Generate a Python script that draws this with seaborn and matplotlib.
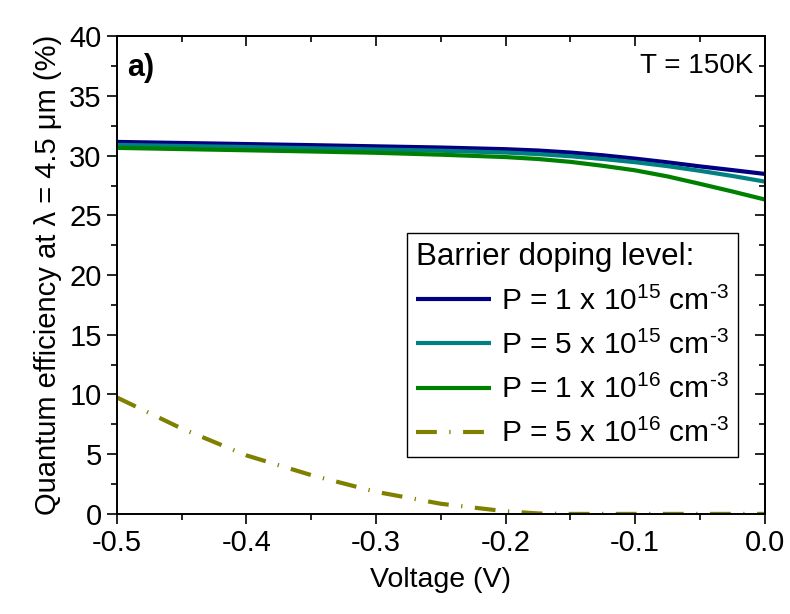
import numpy as np
import pandas as pd
import matplotlib
matplotlib.use("Agg")
import matplotlib.pyplot as plt
from matplotlib.ticker import MultipleLocator
import seaborn as sns

# Bias voltage (V) and quantum efficiency (%) for each barrier doping level
voltage = [-0.5, -0.45, -0.4, -0.35, -0.3, -0.25, -0.2, -0.175, -0.15, -0.125, -0.1, -0.075, -0.05, -0.025, 0.0]
qe_1e15 = [31.15, 31.06, 30.97, 30.88, 30.78, 30.68, 30.54, 30.43, 30.26, 30.03, 29.75, 29.44, 29.10, 28.79, 28.47]
qe_5e15 = [30.90, 30.81, 30.72, 30.62, 30.52, 30.41, 30.26, 30.13, 29.95, 29.72, 29.45, 29.12, 28.73, 28.30, 27.83]
qe_1e16 = [30.65, 30.55, 30.45, 30.35, 30.24, 30.08, 29.88, 29.72, 29.48, 29.15, 28.77, 28.26, 27.64, 27.00, 26.33]
qe_5e16 = [9.75, 7.15, 4.90, 3.25, 1.85, 0.85, 0.22, 0.04, 0.0, 0.0, 0.0, 0.0, 0.0, 0.0, 0.0]

labels = [r"P = 1 x 10$^{15}$ cm$^{\text{-}3}$",
          r"P = 5 x 10$^{15}$ cm$^{\text{-}3}$",
          r"P = 1 x 10$^{16}$ cm$^{\text{-}3}$",
          r"P = 5 x 10$^{16}$ cm$^{\text{-}3}$"]
colors = ["#000080", "#008080", "#008000", "#808000"]

frames = []
for lab, qe in zip(labels, [qe_1e15, qe_5e15, qe_1e16, qe_5e16]):
    frames.append(pd.DataFrame({"V": voltage, "QE": qe, "doping": lab}))
df = pd.concat(frames, ignore_index=True)

sns.set_theme(style="ticks")
plt.rcParams.update({
    "font.family": ["Liberation Sans", "DejaVu Sans"],
    "mathtext.fontset": "custom",
    "mathtext.rm": "Liberation Sans",
    "mathtext.it": "Liberation Sans:italic",
    "mathtext.bf": "Liberation Sans:bold",
    "axes.unicode_minus": False,
    "axes.linewidth": 1.4,
    "axes.edgecolor": "black",
    "text.color": "black",
    "axes.labelcolor": "black",
    "xtick.color": "black",
    "ytick.color": "black",
})

fig = plt.figure(figsize=(7.9, 6.14), dpi=100)
ax = fig.add_axes([0.148, 0.163, 0.820, 0.778])

dash_styles = {labels[0]: "", labels[1]: "", labels[2]: "",
               labels[3]: (5.0, 3.0, 0.3, 3.0)}
sns.lineplot(data=df, x="V", y="QE", hue="doping", style="doping",
             palette=dict(zip(labels, colors)), dashes=dash_styles,
             hue_order=labels, style_order=labels,
             linewidth=3.0, ax=ax, legend=True)
for ln in ax.get_lines():
    ln.set_dash_capstyle("butt")
    ln.set_solid_capstyle("butt")
    ln.set_solid_joinstyle("round")

ax.set_xlim(-0.5, 0.0)
ax.set_ylim(0, 40)
ax.xaxis.set_major_locator(MultipleLocator(0.1))
ax.xaxis.set_minor_locator(MultipleLocator(0.05))
ax.yaxis.set_major_locator(MultipleLocator(5))
ax.yaxis.set_minor_locator(MultipleLocator(2.5))
ax.tick_params(which="both", direction="out", top=False, right=False,
               labelsize=21, width=1.2, pad=4)
ax.tick_params(which="major", length=7)
ax.tick_params(which="minor", length=4)

# Mirrored inward ticks on the top and right spines
top = ax.secondary_xaxis("top")
top.xaxis.set_major_locator(MultipleLocator(0.1))
top.xaxis.set_minor_locator(MultipleLocator(0.05))
top.tick_params(which="both", direction="in", labeltop=False, width=1.2)
top.tick_params(which="major", length=7)
top.tick_params(which="minor", length=4)
right = ax.secondary_yaxis("right")
right.yaxis.set_major_locator(MultipleLocator(5))
right.yaxis.set_minor_locator(MultipleLocator(2.5))
right.tick_params(which="both", direction="in", labelright=False, width=1.2)
right.tick_params(which="major", length=7)
right.tick_params(which="minor", length=4)

ax.set_xlabel("Voltage (V)", fontsize=20.5, labelpad=7)
ax.set_ylabel("Quantum efficiency at \u03bb = 4.5 \u03bcm (%)", fontsize=21, labelpad=5)

ax.text(0.016, 0.965, "a)", transform=ax.transAxes, fontsize=22,
        fontweight="bold", ha="left", va="top")
ax.text(0.983, 0.965, "T = 150K", transform=ax.transAxes, fontsize=20,
        ha="right", va="top")

handles, hl = ax.get_legend_handles_labels()
leg = ax.legend(handles, hl, title="Barrier doping level:", loc="lower left",
                bbox_to_anchor=(0.448, 0.119), borderaxespad=0,
                fontsize=21.5, title_fontsize=22.5, alignment="left",
                frameon=True, fancybox=False, edgecolor="black", framealpha=1,
                handlelength=2.5, handletextpad=0.35, labelspacing=0.5,
                borderpad=0.3)
leg.get_frame().set_linewidth(1.0)
for h in leg.get_lines():
    h.set_linewidth(3.0)

fig.savefig("out.png", dpi=100, facecolor="white")
